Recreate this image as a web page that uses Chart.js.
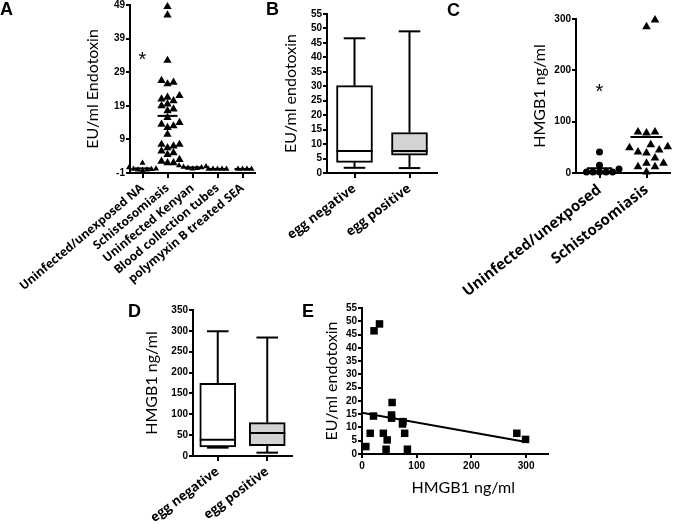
<!DOCTYPE html>
<html>
<head>
<meta charset="utf-8">
<title>Endotoxin and HMGB1</title>
<script src="https://cdn.jsdelivr.net/npm/chart.js@4.4.0/dist/chart.umd.min.js"></script>
<style>
  body { margin: 0; background: #fff; }
  #wrap { position: relative; width: 675px; height: 525px; overflow: hidden; }
  canvas { position: absolute; }
  .tag { position: absolute; font: bold 18px "Liberation Sans", Arial, sans-serif; line-height: 18px; color: #000; }
</style>
</head>
<body>
<div id="wrap">
  <canvas id="chartA" width="260" height="300" style="left:0;top:0"></canvas>
  <canvas id="chartB" width="180" height="300" style="left:262px;top:0"></canvas>
  <canvas id="chartC" width="220" height="300" style="left:455px;top:0"></canvas>
  <canvas id="chartD" width="170" height="225" style="left:130px;top:300px"></canvas>
  <canvas id="chartE" width="260" height="225" style="left:300px;top:300px"></canvas>
  <div class="tag" style="left:0;top:0">A</div>
  <div class="tag" style="left:266px;top:0">B</div>
  <div class="tag" style="left:447px;top:1px">C</div>
  <div class="tag" style="left:128px;top:302px">D</div>
  <div class="tag" style="left:302px;top:302px">E</div>
</div>
<script>
  // A: endotoxin per group
  const aGroups = ['Uninfected/unexposed NA', 'Schistosomiasis', 'Uninfected Kenyan', 'Blood collection tubes', 'polymyxin B treated SEA'];
  const aNA = [2, 0.6, 0.3, 0.2, 0.1, 0, 0, -0.2];
  const aSchisto = [48.5, 46, 32.5, 26.5, 25.5, 26, 21.5, 22, 21, 20.5, 19.5, 19, 18, 17.5, 15.5, 14, 13.5, 13, 12.5, 10.5,
                    7.5, 7.5, 7, 6.5, 5.5, 5, 4.5, 3, 2.5, 2, 2];
  const aKenyan = [1.2, 0.9, 0.8, 0.6, 0.5, 0.4, 0.3];
  const aTubes = [0.2, 0.2, 0.2, 0.2, 0.2];
  const aPolymyxin = [0.2, 0.2, 0.2, 0.2];
  const aTicks = [-1, 9, 19, 29, 39, 49];
  const aStar = 34;

  // B and D: box plots by egg status
  const eggGroups = ['egg negative', 'egg positive'];
  const bMin = [1.8, 1.7];
  const bQ1 = [3.7, 6.2];
  const bMedian = [7.6, 7.6];
  const bQ3 = [30.2, 14];
  const bMax = [46.6, 49];

  const dMin = [20, 8];
  const dQ1 = [22, 25];
  const dMedian = [39, 55];
  const dQ3 = [174, 80];
  const dMax = [299, 284];

  // C: HMGB1 per group
  const cGroups = ['Uninfected/unexposed', 'Schistosomiasis'];
  const cUninfected = [15, 41, 8, 2, 2, 2, 2, 2];
  const cSchisto = [298, 285, 80, 78, 80, 55, 51, 49, 45, 39, 41, 29, 19, 19, 12, 12, 2];
  const cStar = 167;

  // E: HMGB1 vs endotoxin
  const eHmgb1 = [7, 15, 21, 39, 46, 44, 55, 54, 54, 75, 74, 78, 83, 283, 299, 22, 32];
  const eEndotoxin = [2.8, 7.8, 14.3, 7.8, 5.3, 1.8, 19.4, 14.7, 13.5, 12.2, 11.3, 7.8, 1.8, 7.8, 5.5, 46.4, 49];
  const eFitX = [0, 300];
  const eFitY = [15.5, 4.5];

  const tickFont = { family: '"Liberation Sans Narrow", "Liberation Sans", Arial, sans-serif', size: 10, weight: 'bold' };
  const titleFont = { family: 'Lato, "Open Sans", sans-serif', size: 16 };
  const labelFamily = '"Open Sans", "Noto Sans", sans-serif';

  function yScale(o) {
    return {
      type: 'linear', min: o.min, max: o.max,
      afterFit: s => { s.width = o.width; s.paddingTop = 0; s.paddingBottom = 0; },
      afterBuildTicks: s => { if (o.tickValues) s.ticks = o.tickValues.map(v => ({ value: v })); },
      border: { display: true, color: '#000', width: 2 },
      grid: { drawOnChartArea: false, color: '#000', lineWidth: 2, tickLength: 4 },
      ticks: { color: '#000', font: tickFont, padding: 1, stepSize: o.step, includeBounds: false, autoSkip: false },
      title: { display: true, text: o.title, color: '#000', font: titleFont, padding: { top: o.titlePad, bottom: 0 } }
    };
  }

  function xCat(o) {
    return {
      type: 'category', offset: true,
      afterFit: s => { s.height = o.height; s.paddingLeft = 0; s.paddingRight = 0; },
      border: { display: true, color: '#000', width: 2 },
      grid: { drawOnChartArea: false, offset: false, color: '#000', lineWidth: 2, tickLength: 5 },
      ticks: { color: '#000', font: { family: labelFamily, size: o.size, weight: 'bold' },
               minRotation: o.rot, maxRotation: o.rot, autoSkip: false, padding: 3 }
    };
  }

  // spread points of one group sideways so they do not overlap
  const swarm = {
    id: 'swarm',
    afterDatasetsUpdate(chart) {
      chart.data.datasets.forEach((ds, i) => {
        if (!ds.swarm) return;
        const d = ds.swarm;
        const placed = [];
        chart.getDatasetMeta(i).data.slice().sort((a, b) => b.y - a.y).forEach(el => {
          let off = 0;
          for (let k = 0; k < 60; k++) {
            const cands = k === 0 ? [0] : [k * d / 2, -k * d / 2];
            const ok = cands.find(c => placed.every(q => Math.hypot(q.x - c, q.y - el.y) >= d));
            if (ok !== undefined) { off = ok; break; }
          }
          placed.push({ x: off, y: el.y });
          el.x += off;
        });
      });
    }
  };

  // group mean line and significance star
  const marks = {
    id: 'marks',
    afterDatasetsDraw(chart, args, opts) {
      const { ctx, scales: { x, y } } = chart;
      ctx.save();
      ctx.strokeStyle = '#000';
      ctx.lineWidth = 2;
      chart.data.datasets.forEach(ds => {
        if (!ds.meanHalf) return;
        const vals = ds.data.map(p => p.y);
        const mean = vals.reduce((s, v) => s + v, 0) / vals.length;
        const cx = x.getPixelForValue(ds.group);
        const py = y.getPixelForValue(mean);
        ctx.beginPath();
        ctx.moveTo(cx - ds.meanHalf, py);
        ctx.lineTo(cx + ds.meanHalf, py);
        ctx.stroke();
      });
      if (opts.star !== undefined) {
        ctx.fillStyle = '#000';
        ctx.font = '20px "Liberation Sans", Arial, sans-serif';
        ctx.textAlign = 'center';
        ctx.textBaseline = 'middle';
        ctx.fillText('*', x.getPixelForValue(0), y.getPixelForValue(opts.star) + 5);
      }
      ctx.restore();
    }
  };

  // whiskers and median for floating-bar boxes
  const whiskers = {
    id: 'whiskers',
    afterDatasetsDraw(chart) {
      const ds = chart.data.datasets[0];
      const st = ds.stats;
      const y = chart.scales.y;
      const ctx = chart.ctx;
      ctx.save();
      ctx.strokeStyle = '#000';
      ctx.lineWidth = 2;
      const line = (x1, y1, x2, y2) => { ctx.beginPath(); ctx.moveTo(x1, y1); ctx.lineTo(x2, y2); ctx.stroke(); };
      chart.getDatasetMeta(0).data.forEach((bar, i) => {
        const cx = bar.x, half = bar.width / 2, cap = half * 0.6;
        const pMin = y.getPixelForValue(st.min[i]), pQ1 = y.getPixelForValue(st.q1[i]);
        const pQ3 = y.getPixelForValue(st.q3[i]), pMax = y.getPixelForValue(st.max[i]);
        const pMed = y.getPixelForValue(st.median[i]);
        line(cx, pQ1, cx, pMin); line(cx - cap, pMin, cx + cap, pMin);
        line(cx, pQ3, cx, pMax); line(cx - cap, pMax, cx + cap, pMax);
        line(cx - half, pMed, cx + half, pMed);
      });
      ctx.restore();
    }
  };

  const base = {
    responsive: false, animation: false, events: [],
    plugins: { legend: { display: false }, tooltip: { enabled: false } }
  };

  // A
  const aSeries = [aNA, aSchisto, aKenyan, aTubes, aPolymyxin];
  new Chart(document.getElementById('chartA'), {
    type: 'line',
    data: {
      labels: aGroups,
      datasets: aSeries.map((vals, g) => ({
        data: vals.map(v => ({ x: aGroups[g], y: v })),
        showLine: false, clip: false,
        pointStyle: 'triangle', pointRadius: g === 1 ? 4.8 : 3.5,
        backgroundColor: '#000', borderColor: '#000', borderWidth: 0,
        group: g, swarm: g === 1 ? 6 : 4.5, meanHalf: g === 1 ? 10 : 8
      }))
    },
    options: {
      ...base,
      layout: { padding: { top: 5, right: 5, left: 0, bottom: 0 } },
      plugins: { ...base.plugins, marks: { star: aStar } },
      scales: {
        x: xCat({ height: 127, size: 12, rot: 40 }),
        y: yScale({ min: -1, max: 49, tickValues: aTicks, width: 130, title: 'EU/ml Endotoxin', titlePad: 83 })
      }
    },
    plugins: [swarm, marks]
  });

  // box plot charts
  function boxChart(id, o) {
    return new Chart(document.getElementById(id), {
      type: 'bar',
      data: {
        labels: eggGroups,
        datasets: [{
          data: o.q1.map((v, i) => [v, o.q3[i]]),
          stats: { min: o.min, q1: o.q1, median: o.median, q3: o.q3, max: o.max },
          backgroundColor: ['#ffffff', '#d3d3d3'],
          borderColor: '#000', borderWidth: 2, borderSkipped: false,
          barThickness: 36
        }]
      },
      options: {
        ...base,
        layout: { padding: o.padding },
        scales: {
          x: xCat({ height: o.xHeight, size: 13, rot: 37 }),
          y: yScale({ min: 0, max: o.yMax, step: o.step, width: o.yWidth, title: o.title, titlePad: o.titlePad })
        }
      },
      plugins: [whiskers]
    });
  }

  boxChart('chartB', { min: bMin, q1: bQ1, median: bMedian, q3: bQ3, max: bMax, yMax: 55, step: 5,
    yWidth: 65, xHeight: 127, title: 'EU/ml endotoxin', titlePad: 19,
    padding: { top: 14, right: 5, left: 0, bottom: 0 } });

  boxChart('chartD', { min: dMin, q1: dQ1, median: dMedian, q3: dQ3, max: dMax, yMax: 350, step: 50,
    yWidth: 63, xHeight: 69, title: 'HMGB1 ng/ml', titlePad: 12,
    padding: { top: 10, right: 8, left: 0, bottom: 0 } });

  // C
  const cSeries = [cUninfected, cSchisto];
  new Chart(document.getElementById('chartC'), {
    type: 'line',
    data: {
      labels: cGroups,
      datasets: cSeries.map((vals, g) => ({
        data: vals.map(v => ({ x: cGroups[g], y: v })),
        showLine: false, clip: false,
        pointStyle: g === 0 ? 'circle' : 'triangle', pointRadius: g === 0 ? 3.5 : 5,
        backgroundColor: '#000', borderColor: '#000', borderWidth: 0,
        group: g, swarm: g === 0 ? 6.5 : 8.5, meanHalf: g === 0 ? 12.5 : 16
      }))
    },
    options: {
      ...base,
      layout: { padding: { top: 19, right: 2, left: 0, bottom: 0 } },
      plugins: { ...base.plugins, marks: { star: cStar } },
      scales: {
        x: xCat({ height: 127, size: 15, rot: 38 }),
        y: yScale({ min: 0, max: 300, step: 100, width: 121, title: 'HMGB1 ng/ml', titlePad: 75 })
      }
    },
    plugins: [swarm, marks]
  });

  // E
  new Chart(document.getElementById('chartE'), {
    type: 'scatter',
    data: {
      datasets: [{
        data: eHmgb1.map((v, i) => ({ x: v, y: eEndotoxin[i] })),
        pointStyle: 'rect', pointRadius: 5.3, clip: false,
        backgroundColor: '#000', borderColor: '#000', borderWidth: 0
      }, {
        type: 'line',
        data: eFitX.map((v, i) => ({ x: v, y: eFitY[i] })),
        showLine: true, pointRadius: 0, borderColor: '#000', borderWidth: 2
      }]
    },
    options: {
      ...base,
      layout: { padding: { top: 8, right: 12, left: 0, bottom: 0 } },
      scales: {
        x: {
          type: 'linear', min: 0, max: 340,
          afterFit: s => { s.height = 71; s.paddingLeft = 0; s.paddingRight = 0; },
          border: { display: true, color: '#000', width: 2 },
          grid: { drawOnChartArea: false, color: '#000', lineWidth: 2, tickLength: 4 },
          ticks: { color: '#000', font: tickFont, padding: 2, stepSize: 100, includeBounds: false, maxRotation: 0 },
          title: { display: true, text: '    HMGB1 ng/ml', color: '#000', font: titleFont, padding: { top: 0, bottom: 28 } }
        },
        y: yScale({ min: 0, max: 55, step: 5, width: 62, title: 'EU/ml endotoxin', titlePad: 22 })
      }
    }
  });
</script>
</body>
</html>
